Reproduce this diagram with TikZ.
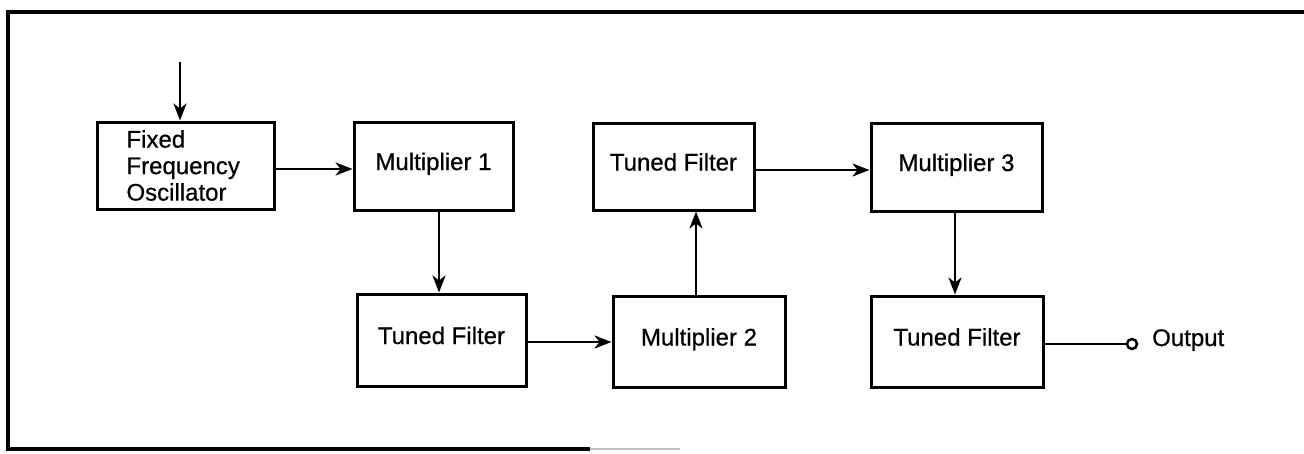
\documentclass[tikz,border=0pt]{standalone}
\usepackage{fontspec}
\setmainfont[FakeBold=0.6]{Liberation Sans}
\usetikzlibrary{arrows.meta}
\begin{document}
\begin{tikzpicture}[x=1pt,y=-1pt,
  txt/.style={font=\fontsize{24}{26.5}\selectfont},
  blk/.style={draw, line width=3pt, minimum width=#1, minimum height=88pt,
    inner sep=0pt, text height=18pt, text depth=10pt, txt},
  arr/.style={line width=2.5pt, -{Stealth[length=17pt,width=13pt,inset=5pt]}},
  frm/.style={line width=3.5pt}
]
\useasboundingbox (0,0) rectangle (1304,453);
% frame
\coordinate (ftr) at (1304,12);
\coordinate (ftl) at (8,12);
\coordinate (fbl) at (8,449);
\coordinate (fbm) at (590,449);
\coordinate (fbr) at (680,449);
\draw[frm] (ftr) -- (ftl) -- (fbl) -- (fbm);
\draw[line width=2pt, black!25] (fbm) -- (fbr);
% blocks
\node[draw, line width=3pt, minimum width=177pt, minimum height=87pt, inner sep=0pt,
  txt, align=left, text width=118pt] (ffo) at (185.5,165.5) {Fixed\\Frequency\\Oscillator};
\node[blk=159pt] (m1) at (433.5,166) {Multiplier 1};
\node[blk=169pt, minimum height=92pt] (tf1) at (441.5,340) {Tuned Filter};
\node[blk=172pt, minimum height=91pt] (m2) at (699,341.5) {Multiplier 2};
\node[blk=161pt, minimum height=87pt] (tf2) at (673.5,166.5) {Tuned Filter};
\node[blk=171pt] (m3) at (956.5,167) {Multiplier 3};
\node[blk=172pt, minimum height=91pt] (tf3) at (957,341.5) {Tuned Filter};
\node[draw, circle, line width=2.5pt, minimum size=10pt, inner sep=0pt] (oc) at (1132,344) {};
\node[txt, anchor=base west, inner sep=0pt] (outl) at (1152,346) {Output};
% connectors
\coordinate (inp) at (180,62);
\draw[arr] (inp) -- (inp |- ffo.north);
\draw[arr] ([yshift=-3.5pt]ffo.east) -- ([yshift=-3.5pt]ffo.east -| m1.west);
\draw[arr] ([xshift=5.5pt]m1.south) -- ([xshift=5.5pt]m1.south |- tf1.north);
\draw[arr] ([yshift=-2pt]tf1.east) -- ([yshift=-2pt]tf1.east -| m2.west);
\draw[arr] ([xshift=-3pt]m2.north) -- ([xshift=-3pt]m2.north |- tf2.south);
\draw[arr] ([yshift=-3.5pt]tf2.east) -- ([yshift=-3.5pt]tf2.east -| m3.west);
\draw[arr] ([xshift=-1.5pt]m3.south) -- ([xshift=-1.5pt]m3.south |- tf3.north);
\draw[line width=2.5pt] ([yshift=-2.5pt]tf3.east) -- (oc.west);
\end{tikzpicture}
\end{document}
